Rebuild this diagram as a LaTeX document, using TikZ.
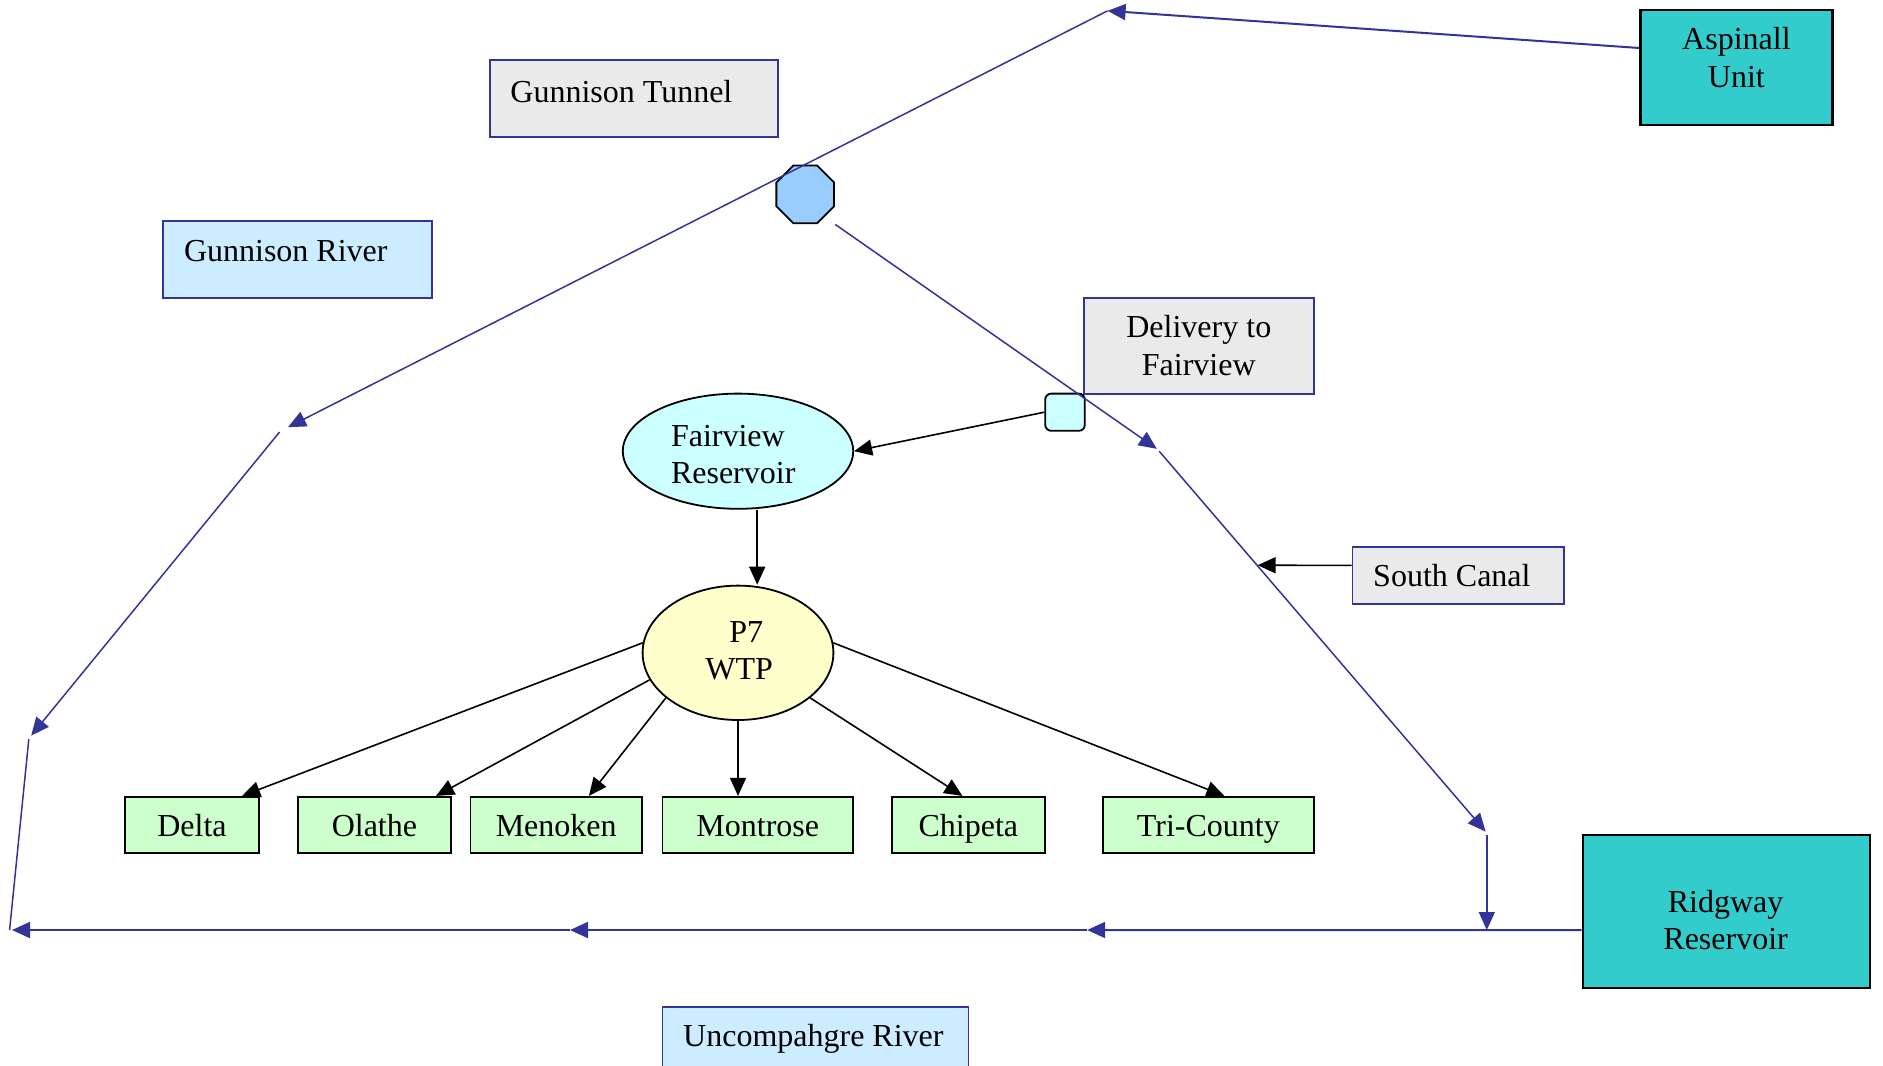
\documentclass[tikz,border=0pt]{standalone}
\usepackage{fontspec}
\setmainfont{Liberation Serif}
\usetikzlibrary{arrows.meta,shapes.geometric,fit}
\definecolor{navy}{HTML}{333399}
\definecolor{grayf}{HTML}{EAEAEA}
\definecolor{lblue}{HTML}{CCECFF}
\definecolor{teal}{HTML}{33CCCC}
\definecolor{lcyan}{HTML}{CCFFFF}
\definecolor{octblue}{HTML}{99CCFF}
\definecolor{lyellow}{HTML}{FFFFCC}
\definecolor{lgreen}{HTML}{CCFFCC}
\begin{document}
\begin{tikzpicture}[x=0.6pt,y=-0.6pt,
  font=\fontsize{16}{18.6}\selectfont,
  graybox/.style={draw=navy,fill=grayf,line width=0.9pt,inner sep=0pt},
  riverbox/.style={draw=navy,fill=lblue,line width=0.9pt,inner sep=0pt},
  tealbox/.style={draw=black,fill=teal,line width=1.1pt,inner sep=0pt},
  citybox/.style={draw=black,fill=lgreen,line width=0.9pt,inner sep=0pt},
  txt/.style={inner sep=0pt},
  ctxt/.style={inner sep=0pt,text height=11pt,text depth=0pt},
  flow/.style={draw=navy,line width=0.75pt,-{Triangle[length=9pt,width=8pt]}},
  bigflow/.style={draw=navy,line width=1pt,-{Triangle[length=9pt,width=8pt]}},
  feed/.style={draw=black,line width=0.8pt,-{Triangle[length=9pt,width=8pt]}}]
\useasboundingbox (0,0) rectangle (1569.17,887.5);
\fill[white] (0,0) rectangle (1569.17,887.5);

% boxes
\node[graybox,fit={(408,50)(648,114)}] (tunnel) {};
\node[txt,anchor=west] (tunneltxt) at (425,76) {Gunnison Tunnel};
\node[riverbox,fit={(136,184)(360,248)}] (griver) {};
\node[txt,anchor=west] (grivertxt) at (153,209) {Gunnison River};
\node[tealbox,fit={(1367,8)(1527,104)}] (asp) {};
\node[txt,align=center] (asptxt) at (1447,48) {Aspinall\\Unit};
\node[graybox,fit={(903,248)(1095,328)},label={[txt,align=center]center:Delivery to\\Fairview}] (deliv) {};
\node[draw=black,fill=lcyan,line width=0.9pt,rounded corners=3pt,inner sep=0pt,fit={(871,328)(904,359)}] (sq) {};
\node[regular polygon,regular polygon sides=8,minimum size=52*0.6pt,inner sep=0pt,draw=black,fill=octblue,line width=0.9pt] (oct) at (671,162) {};
\node[ellipse,draw=black,fill=lcyan,line width=0.9pt,minimum width=192*0.6pt,minimum height=96*0.6pt,inner sep=0pt] (fair) at (615,376) {};
\node[txt,align=left] (fairtxt) at (611,379) {Fairview\\Reservoir};
\node[ellipse,draw=black,fill=lyellow,line width=0.9pt,minimum width=159*0.6pt,minimum height=112*0.6pt,inner sep=0pt] (p7) at (615,544) {};
\node[txt,align=center] (p7txt) at (616,542) {\hspace*{7pt}P7\\WTP};
\node[graybox,fit={(1127,456)(1303,503)}] (sc) {};
\node[txt,anchor=west] (sctxt) at (1144,480) {South Canal};
\node[tealbox,fit={(1319,696)(1558,823)}] (rid) {};
\node[txt,align=center] (ridtxt) at (1438,767) {Ridgway\\Reservoir};
\node[riverbox,fit={(552,839)(807,892)}] (uriver) {};
\node[txt,anchor=west] (urivertxt) at (569,866) {Uncompahgre River};

\node[citybox,fit={(104,664)(216,711)},label={[ctxt]center:Delta}] (delta) {};
\node[citybox,fit={(248,664)(376,711)},label={[ctxt]center:Olathe}] (olathe) {};
\node[citybox,fit={(392,664)(535,711)},label={[ctxt]center:Menoken}] (menoken) {};
\node[citybox,fit={(552,664)(711,711)},label={[ctxt]center:Montrose}] (montrose) {};
\node[citybox,fit={(743,664)(871,711)},label={[ctxt]center:Chipeta}] (chipeta) {};
\node[citybox,fit={(919,664)(1095,711)},label={[ctxt]center:Tri-County}] (tri) {};

% black connectors
\draw[feed] (sq.west) -- (fair.east);
\draw[feed] ([xshift=9.6pt]fair.south) -- ([xshift=9.6pt]fair.south |- p7.north);
\draw[feed] (p7.174) -- ([xshift=-9pt]delta.north east);
\draw[feed] (p7.197) -- ([xshift=-8pt]olathe.north east);
\draw[feed] (p7.212) -- ([xshift=-27pt]menoken.north east);
\draw[feed] (p7.270) -- (montrose.north -| p7.270);
\draw[feed] (p7.328) -- ([xshift=-3pt]chipeta.north);
\draw[feed] (p7.6) -- ([xshift=8pt]tri.north);
\coordinate (scend) at (1048,471);
\draw[feed] ([yshift=5pt]sc.west) -- (scend);

% blue flows
\coordinate (a1) at (923,9);
\coordinate (a2) at (240,356);
\coordinate (a3) at (233,360);
\coordinate (a4) at (26,613);
\coordinate (a5) at (24,616);
\coordinate (a6) at (8,775);
\draw[bigflow] ([yshift=9.6pt]asp.west) -- (a1);
\draw[flow] (a1) -- (a2);
\draw[flow] (a3) -- (a4);
\draw[navy,line width=0.75pt] (a5) -- (a6);

\coordinate (b1) at (906,775);
\coordinate (b2) at (475,775);
\coordinate (b3) at (10,775);
\draw[bigflow] ([yshift=-9.3pt]rid.west) -- (b1);
\draw[bigflow] (b1) -- (b2);
\draw[bigflow] (b2) -- (b3);

\coordinate (c1) at (964,374);
\coordinate (c2) at (966,376);
\coordinate (c3) at (1238,693);
\coordinate (c4) at (1239,696);
\coordinate (c5) at (1239,775);
\draw[flow] ([xshift=15pt,yshift=-15pt]oct.center) -- (c1);
\draw[flow] (c2) -- (c3);
\draw[flow] (c4) -- (c5);
\end{tikzpicture}
\end{document}
